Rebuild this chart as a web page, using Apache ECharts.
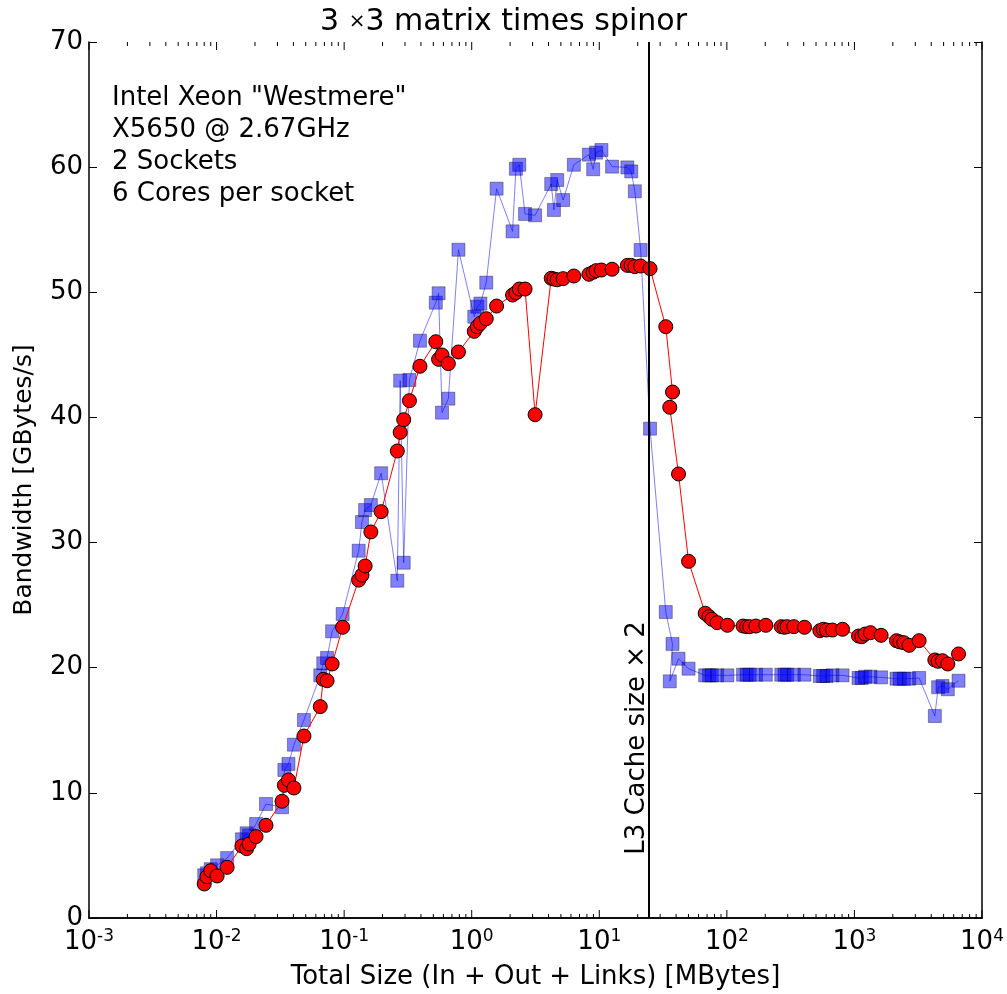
<!DOCTYPE html>
<html lang="en">
<head>
    <meta charset="utf-8">
    <title>3x3 matrix times spinor</title>
    <script src="https://cdn.jsdelivr.net/npm/echarts@6/dist/echarts.min.js"></script>
    <style>
        html, body, #chart {
            width: 100%;
            height: 100%;
            margin: 0;
            padding: 0;
            overflow: hidden;
            background-color: #ffffff;
        }
    </style>
</head>
<body>
    <div id="chart"></div>
    <script>
        // total size in MBytes (shared by both series)
        var sizes = [
            0.0080, 0.0084, 0.0090, 0.0101, 0.0121, 0.0158, 0.0172, 0.0180, 0.0204, 0.0244,
            0.0326, 0.0340, 0.0366, 0.0404, 0.0484, 0.0650, 0.0686, 0.0735, 0.0805, 0.0973,
            0.130, 0.138, 0.146, 0.162, 0.195, 0.261, 0.275, 0.293, 0.325, 0.393,
            0.523, 0.550, 0.585, 0.656, 0.787, 1.047, 1.105, 1.17, 1.30, 1.567,
            2.09, 2.22, 2.36, 2.62, 3.14, 4.20, 4.41, 4.68, 5.21, 6.32,
            8.3, 8.96, 9.45, 10.4, 12.6, 16.6, 17.8, 19.0, 21.1, 25.0,
            33.2, 37.5, 35.7, 41.8, 50.1, 67.6, 72.6, 76.2, 83.9, 101,
            134, 143, 151, 169, 202, 267, 283, 297, 335, 406,
            536, 569, 604, 673, 807, 1077, 1143, 1213, 1336, 1618,
            2137, 2269, 2439, 2686, 3216, 4270, 4530, 4900, 5397, 6547
        ];

        // red circles
        var bwRed = [
            2.72, 3.30, 3.78, 3.36, 4.05, 5.75, 5.54, 5.91, 6.50, 7.41,
            9.33, 10.6, 11.03, 10.39, 14.54, 16.89, 19.07, 18.96, 20.30, 23.23,
            27.0, 27.4, 28.13, 30.85, 32.47, 37.32, 38.81, 39.82, 41.34, 44.09,
            46.05, 44.64, 44.99, 44.30, 45.23, 46.88, 47.25, 47.52, 47.89, 48.9,
            49.78, 49.97, 50.26, 50.26, 40.22, 51.12, 51.06, 51.0, 51.09, 51.3,
            51.44, 51.6, 51.73, 51.78, 51.84, 52.15, 52.15, 52.05, 52.1, 51.89,
            47.25, 42.03, 40.81, 35.48, 28.5, 24.35, 24.08, 23.87, 23.6, 23.39,
            23.33, 23.28, 23.28, 23.33, 23.39, 23.28, 23.23, 23.28, 23.28, 23.23,
            22.96, 23.07, 23.01, 23.01, 23.07, 22.53, 22.48, 22.69, 22.8, 22.59,
            22.16, 22.06, 22.0, 21.79, 22.16, 20.62, 20.51, 20.56, 20.3, 21.1
        ];

        // blue squares
        var bwBlue = [
            3.41, 3.57, 3.9, 4.21, 4.79, 6.29, 6.77, 6.6, 7.51, 9.11,
            8.85, 11.83, 12.31, 13.85, 15.82, 19.39, 20.35, 20.78, 22.91, 24.29,
            29.35, 31.64, 32.6, 33.0, 35.54, 26.95, 42.94, 28.39, 42.99, 46.13,
            49.17, 49.92, 40.38, 41.5, 53.4, 48.05, 48.85, 49.1, 50.77, 58.28,
            54.87, 59.87, 60.19, 56.26, 56.15, 58.65, 56.58, 58.97, 57.37, 60.19,
            61.0, 59.83, 61.16, 61.37, 60.04, 59.98, 59.66, 58.07, 53.38, 39.1,
            24.45, 21.9, 18.91, 20.72, 19.92, 19.39, 19.39, 19.39, 19.39, 19.39,
            19.44, 19.44, 19.44, 19.44, 19.44, 19.44, 19.44, 19.44, 19.44, 19.44,
            19.34, 19.34, 19.34, 19.39, 19.39, 19.18, 19.18, 19.28, 19.28, 19.23,
            19.12, 19.12, 19.12, 19.12, 19.18, 16.14, 18.44, 18.54, 18.28, 18.96
        ];

        var cacheLine = 24.5; // L3 cache size x 2
        var infoLines = ['Intel Xeon "Westmere"', 'X5650 @ 2.67GHz', '2 Sockets', '6 Cores per socket'];

        // tick marks for the log axis: [value, isMajor] (decades + 2..9 minors)
        var logTicks = [];
        for (var e = -3; e <= 4; e++) {
            logTicks.push([Math.pow(10, e), 1]);
            if (e < 4) {
                for (var m = 2; m < 10; m++) {
                    logTicks.push([m * Math.pow(10, e), 0]);
                }
            }
        }

        function pairs(ys) {
            var out = [];
            for (var i = 0; i < sizes.length; i++) {
                out.push([sizes[i], ys[i]]);
            }
            return out;
        }

        var font = 'DejaVu Sans';
        var chart = echarts.init(document.getElementById('chart'));

        var xLabel = {
            color: '#000',
            margin: 10,
            formatter: function (v) {
                return '{b|10}{s|' + Math.round(Math.log10(v)) + '}';
            },
            rich: {
                b: { fontFamily: font, fontSize: 26, color: '#000' },
                s: { fontFamily: font, fontSize: 17, color: '#000', verticalAlign: 'top', padding: [0, 0, 12, 0] }
            }
        };

        var option = {
            animation: false,
            backgroundColor: '#fff',
            title: {
                text: '3 {m|\u00d7}3 matrix times spinor',
                left: 'center',
                top: 2,
                textStyle: {
                    fontFamily: font, fontSize: 30, fontWeight: 'normal', color: '#000',
                    rich: { m: { fontFamily: font, fontSize: 20, color: '#000' } }
                }
            },
            grid: { left: 89, right: 25, top: 42, bottom: 76, containLabel: false, outerBoundsMode: 'none' },
            xAxis: [
                {
                    type: 'log', logBase: 10, min: 0.001, max: 10000,
                    name: 'Total Size (In + Out + Links) [MBytes]',
                    nameLocation: 'middle', nameGap: 46,
                    nameTextStyle: { fontFamily: font, fontSize: 26, color: '#000' },
                    axisLine: { lineStyle: { color: '#000', width: 1.5 } },
                    axisTick: { show: false },
                    axisLabel: xLabel,
                    splitLine: { show: false }
                },
                {
                    type: 'log', logBase: 10, min: 0.001, max: 10000, position: 'top',
                    axisLine: { lineStyle: { color: '#000', width: 1.5 } },
                    axisTick: { show: false },
                    axisLabel: { show: false },
                    splitLine: { show: false }
                }
            ],
            yAxis: [
                {
                    type: 'value', min: 0, max: 70, interval: 10,
                    name: 'Bandwidth [GBytes/s]',
                    nameLocation: 'middle', nameGap: 52,
                    nameTextStyle: { fontFamily: font, fontSize: 25, color: '#000' },
                    axisLine: { show: true, lineStyle: { color: '#000', width: 1.5 } },
                    axisTick: { show: true, inside: true, length: 8, lineStyle: { color: '#000' } },
                    axisLabel: { fontFamily: font, fontSize: 26, color: '#000', margin: 6 },
                    splitLine: { show: false }
                },
                {
                    type: 'value', min: 0, max: 70, interval: 10, position: 'right',
                    axisLine: { show: true, lineStyle: { color: '#000', width: 1.5 } },
                    axisTick: { show: true, inside: true, length: 8, lineStyle: { color: '#000' } },
                    axisLabel: { show: false },
                    splitLine: { show: false }
                }
            ],
            graphic: [
                {
                    type: 'text', left: 112, top: 82,
                    style: {
                        text: infoLines.join('\n'),
                        fontFamily: font, fontSize: 26, lineHeight: 32, fill: '#000'
                    }
                },
                {
                    type: 'text', x: 637, y: 738, rotation: Math.PI / 2,
                    style: {
                        text: 'L3 Cache size \u00d7 2',
                        fontFamily: font, fontSize: 26, fill: '#000',
                        align: 'center', verticalAlign: 'middle'
                    }
                }
            ],
            series: [
                {
                    type: 'custom',
                    silent: true,
                    data: logTicks,
                    renderItem: function (params, api) {
                        var p = api.coord([api.value(0), 0]);
                        var len = api.value(1) ? 8 : 4;
                        var cs = params.coordSys;
                        var bottom = cs.y + cs.height;
                        return {
                            type: 'group',
                            children: [
                                { type: 'line', shape: { x1: p[0], y1: bottom, x2: p[0], y2: bottom - len }, style: { stroke: '#000', lineWidth: 1 } },
                                { type: 'line', shape: { x1: p[0], y1: cs.y, x2: p[0], y2: cs.y + len }, style: { stroke: '#000', lineWidth: 1 } }
                            ]
                        };
                    },
                    z: 1
                },
                {
                    name: 'blue',
                    type: 'line',
                    data: pairs(bwBlue),
                    symbol: 'rect',
                    symbolSize: 13,
                    lineStyle: { color: 'rgba(0,0,255,0.5)', width: 1 },
                    itemStyle: { color: 'rgba(0,0,255,0.5)', borderColor: 'rgba(0,0,0,0.35)', borderWidth: 1 },
                    z: 3
                },
                {
                    name: 'red',
                    type: 'line',
                    data: pairs(bwRed),
                    symbol: 'circle',
                    symbolSize: 14,
                    lineStyle: { color: '#ff0000', width: 1 },
                    itemStyle: { color: '#ff0000', borderColor: '#000', borderWidth: 1 },
                    markLine: {
                        silent: true,
                        symbol: ['none', 'none'],
                        label: { show: false },
                        lineStyle: { color: '#000', width: 2, type: 'solid' },
                        data: [{ xAxis: cacheLine }]
                    },
                    z: 4
                }
            ]
        };
        chart.setOption(option);
    </script>
</body>
</html>
